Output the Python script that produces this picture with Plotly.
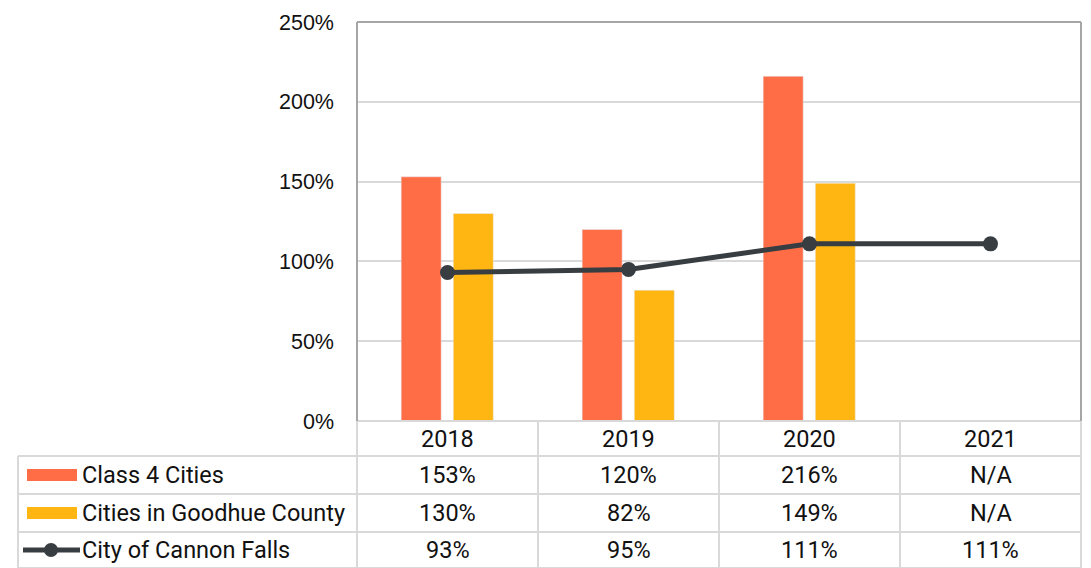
import plotly.graph_objects as go

years = ["2018", "2019", "2020", "2021"]
class4 = [153, 120, 216, None]
goodhue = [130, 82, 149, None]
cannon = [93, 95, 111, 111]
series_names = ["Class 4 Cities", "Cities in Goodhue County", "City of Cannon Falls"]
y_ticks = [0, 50, 100, 150, 200, 250]
y_tick_text = ["0%", "50%", "100%", "150%", "200%", "250%"]

W, H = 1091, 568
OFF = 8  # page body margin compensation
ORANGE = "#FF6D47"
YELLOW = "#FFB612"
DARK = "#383D42"
GRID = "#D9D9D9"
BORDER = "#A6A6A6"
FONT_T = "Roboto"

def px(x):
    return (x - OFF) / W

def py(y):
    return 1 - (y - OFF) / H

X0, X1 = 357, 1081
Y0, Y1 = 22, 421
idx = list(range(len(years)))

fig = go.Figure()
fig.add_trace(go.Bar(x=idx, y=class4, marker_color=ORANGE, width=0.221, offset=-0.256,
                     name=series_names[0], showlegend=False))
fig.add_trace(go.Bar(x=idx, y=goodhue, marker_color=YELLOW, width=0.221, offset=0.032,
                     name=series_names[1], showlegend=False))
fig.add_trace(go.Scatter(x=idx, y=cannon, mode="lines+markers", name=series_names[2],
                         line=dict(color=DARK, width=5), marker=dict(size=15, color=DARK),
                         showlegend=False))

shapes = []
def seg(x0, y0, x1, y1, color, w=2):
    shapes.append(dict(type="line", xref="paper", yref="paper", x0=px(x0), x1=px(x1), y0=py(y0), y1=py(y1),
                       line=dict(color=color, width=w)))

# table lines
rows = [421, 456, 494, 532, 568]
col_w = (X1 - X0) / 4
cols = [X0 + i * col_w for i in range(5)]
for i, r in enumerate(rows):
    seg(X0 if i == 0 else 18, r, X1, r, GRID)
for c in cols:
    seg(c, 421, c, 575, GRID)
seg(18, 456, 18, 575, GRID)
# plot border
seg(X0, Y0, X0, Y1, BORDER)
seg(X0, Y0, X1, Y0, BORDER)
seg(X1, Y0, X1, Y1, BORDER)

# legend keys
row_c = [(rows[i] + rows[i + 1]) / 2 for i in range(4)]
shapes.append(dict(type="rect", xref="paper", yref="paper", x0=px(27), x1=px(77), y0=py(row_c[1] - 6), y1=py(row_c[1] + 6),
                   fillcolor=ORANGE, line=dict(width=0)))
shapes.append(dict(type="rect", xref="paper", yref="paper", x0=px(27), x1=px(77), y0=py(row_c[2] - 6), y1=py(row_c[2] + 6),
                   fillcolor=YELLOW, line=dict(width=0)))
seg(23, row_c[3], 80, row_c[3], DARK, 5)
shapes.append(dict(type="circle", xref="paper", yref="paper", x0=px(44), x1=px(58), y0=py(row_c[3] - 7), y1=py(row_c[3] + 7),
                   fillcolor=DARK, line=dict(width=0)))

annotations = []
tf = dict(family=FONT_T, size=23.5, color="#111111")
for i, yr in enumerate(years):
    annotations.append(dict(x=i, xref="x", y=py(row_c[0]), yref="paper", text=yr, showarrow=False,
                            font=tf, xanchor="center", yanchor="middle"))
def fmt(v):
    return "N/A" if v is None else f"{v}%"
for r, vals in enumerate([class4, goodhue, cannon]):
    for i, v in enumerate(vals):
        annotations.append(dict(x=i, xref="x", y=py(row_c[r + 1]), yref="paper", text=fmt(v), showarrow=False,
                                font=tf, xanchor="center", yanchor="middle"))
    annotations.append(dict(x=px(80), xref="paper", y=py(row_c[r + 1]), yref="paper", text=series_names[r],
                            showarrow=False, font=tf, xanchor="left", yanchor="middle"))

fig.update_layout(
    width=W, height=H, margin=dict(l=0, r=0, t=0, b=0, autoexpand=False),
    paper_bgcolor="white", plot_bgcolor="white",
    barmode="overlay",
    xaxis=dict(domain=[px(X0), px(X1)], range=[-0.5, 3.5], showticklabels=False, showgrid=False,
               zeroline=False, fixedrange=True, automargin=False),
    yaxis=dict(domain=[py(Y1), py(Y0)], range=[0, 250], tickmode="array", tickvals=y_ticks,
               ticktext=y_tick_text, automargin=False,
               showgrid=True, gridcolor=GRID, gridwidth=2, zeroline=False, ticks="",
               ticklabelstandoff=22,
               tickfont=dict(family="Liberation Sans", size=21.5, color="#111111")),
    shapes=shapes, annotations=annotations,
)
fig.write_html("out.html")
